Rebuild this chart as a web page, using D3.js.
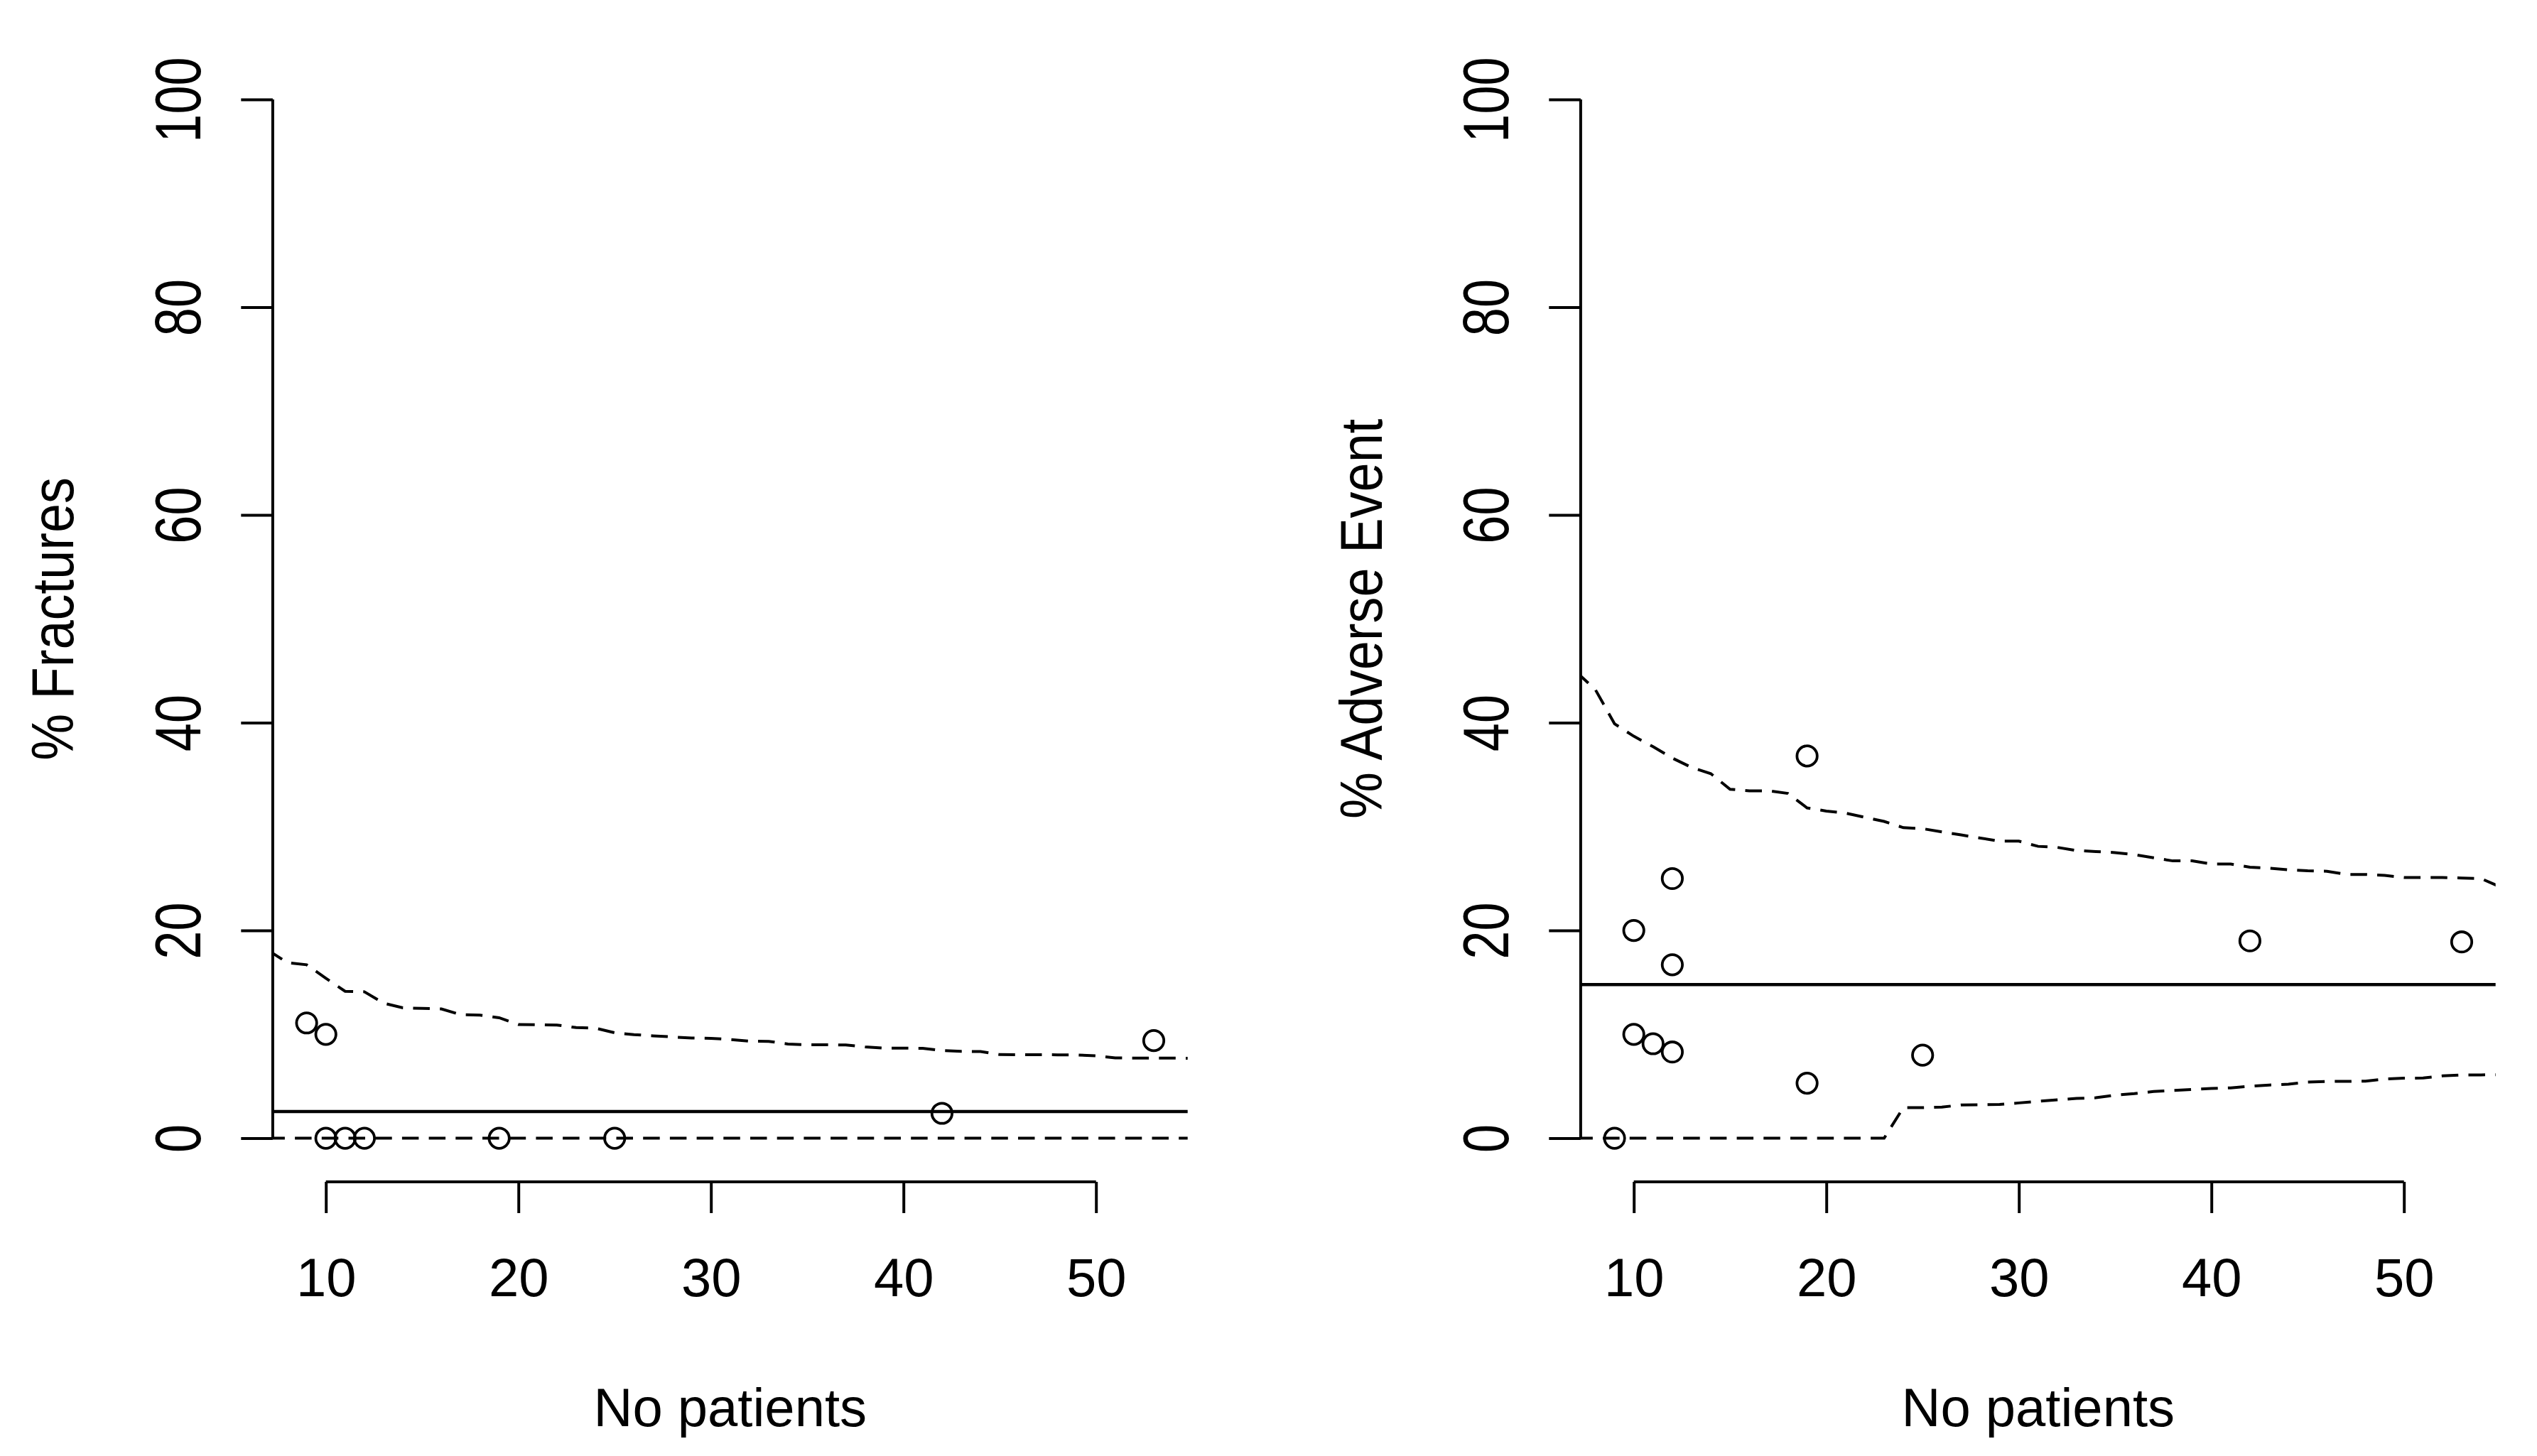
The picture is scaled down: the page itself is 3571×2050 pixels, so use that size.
<!DOCTYPE html>
<html>
<head>
<meta charset="utf-8">
<script src="https://cdn.jsdelivr.net/npm/d3@7"></script>
<style>
  body { margin: 0; background: #fff; }
  text { font-family: "Liberation Sans", Arial, sans-serif; fill: #000; }
</style>
</head>
<body>
<div id="chart"></div>
<script>
// Data
// Grid of study sizes the funnel limits are drawn on
var nGrid = [7, 8, 9, 10, 11, 12, 13, 14, 15, 16, 17, 18, 19, 20, 21, 22, 23, 24, 25, 26, 27, 28, 29, 30, 31,
  32, 33, 34, 35, 36, 37, 38, 39, 40, 41, 42, 43, 44, 45, 46, 47, 48, 49, 50, 51, 52, 53, 54, 55];

// Fractures panel
var fracUpper = [18.1, 16.9, 16.7, 15.4, 14.15, 14.1, 13.0, 12.55, 12.5, 12.45, 11.9, 11.85, 11.6, 10.95, 10.93,
  10.9, 10.65, 10.6, 10.15, 9.98, 9.86, 9.75, 9.65, 9.62, 9.5, 9.35, 9.33, 9.07, 9.0, 9.0, 8.98, 8.8, 8.68, 8.68,
  8.66, 8.45, 8.36, 8.35, 8.05, 8.04, 8.04, 8.03, 8.02, 7.93, 7.73, 7.72, 7.72, 7.71, 7.7];
var fracLower = [0, 0, 0, 0, 0, 0, 0, 0, 0, 0, 0, 0, 0, 0, 0, 0, 0, 0, 0, 0, 0, 0, 0, 0, 0,
  0, 0, 0, 0, 0, 0, 0, 0, 0, 0, 0, 0, 0, 0, 0, 0, 0, 0, 0, 0, 0, 0, 0, 0];
var fracN = [9, 10, 10, 11, 12, 19, 25, 42, 53];
var fracPct = [11.1, 10, 0, 0, 0, 0, 0, 2.4, 9.4];
var fracMean = 2.57;

// Adverse event panel
var aeUpper = [44.9, 43.2, 39.9, 38.7, 37.7, 36.6, 35.7, 35.1, 33.6, 33.45, 33.45, 33.2, 31.8, 31.5, 31.3, 30.9,
  30.5, 29.9, 29.8, 29.5, 29.2, 28.9, 28.6, 28.6, 28.1, 28.0, 27.7, 27.6, 27.5, 27.3, 27.0, 26.7, 26.7, 26.4,
  26.4, 26.1, 26.0, 25.85, 25.75, 25.7, 25.4, 25.4, 25.3, 25.1, 25.1, 25.1, 25.05, 25.0, 24.2];
var aeLower = [0, 0, 0, 0, 0, 0, 0, 0, 0, 0, 0, 0, 0, 0, 0, 0, 0, 2.95, 2.95, 3.0, 3.2, 3.22, 3.25, 3.4, 3.55,
  3.7, 3.83, 3.9, 4.15, 4.3, 4.5, 4.6, 4.7, 4.8, 4.85, 5.0, 5.12, 5.2, 5.4, 5.47, 5.47, 5.5, 5.7, 5.78, 5.8,
  6.0, 6.1, 6.1, 6.12];
var aeN = [9, 10, 10, 11, 12, 12, 12, 19, 19, 25, 42, 53];
var aePct = [0, 20, 10, 9.1, 25, 16.7, 8.3, 36.8, 5.3, 8, 19, 18.9];
var aeMean = 14.8;

// Axis ticks and titles
var yTicks = [0, 20, 40, 60, 80, 100];
var xTicks = [10, 20, 30, 40, 50];
var xTitle = "No patients";

// svg container
var svgWidth = 3571;
var svgHeight = 2050;

var svg = d3.select("#chart")
  .append("svg")
  .attr("width", svgWidth)
  .attr("height", svgHeight)
  .style("display", "block");

// one funnel panel
function drawPanel(p) {
  var xScale = d3.scaleLinear()
    .domain([7.24, 54.76])
    .range(p.xRange);

  var yScale = d3.scaleLinear()
    .domain([-4, 104])
    .range([1661.1, 81.6]);

  var g = svg.append("g");

  // clip the limit lines to the plot region
  svg.append("clipPath")
    .attr("id", "clip-" + p.id)
    .append("rect")
    .attr("x", p.xRange[0])
    .attr("y", yScale(104))
    .attr("width", p.xRange[1] - p.xRange[0])
    .attr("height", yScale(-4) - yScale(104));

  // y axis, line only from first to last tick
  var yAxis = d3.axisLeft(yScale)
    .tickValues(yTicks)
    .tickSize(44.6)
    .tickSizeOuter(0);

  var yg = g.append("g")
    .attr("transform", `translate(${p.xRange[0]}, 0)`)
    .call(yAxis);

  yg.select(".domain")
    .attr("d", `M0,${yScale(0)}V${yScale(100)}`)
    .attr("stroke-width", 4);
  yg.selectAll(".tick line").attr("stroke-width", 4);
  yg.selectAll(".tick text")
    .attr("x", 0)
    .attr("dy", null)
    .attr("text-anchor", "middle")
    .attr("font-size", 72)
    .attr("transform", "translate(-101.9, 0) rotate(-90) scale(1, 1.25)");

  // x axis
  var xAxis = d3.axisBottom(xScale)
    .tickValues(xTicks)
    .tickSize(44)
    .tickSizeOuter(0);

  var xg = g.append("g")
    .attr("transform", "translate(0, 1664)")
    .call(xAxis);

  xg.select(".domain")
    .attr("d", `M${xScale(10)},0H${xScale(50)}`)
    .attr("stroke-width", 4);
  xg.selectAll(".tick line").attr("stroke-width", 4);
  xg.selectAll(".tick text")
    .attr("y", 161)
    .attr("dy", null)
    .attr("font-size", 76);

  // pooled estimate
  g.append("line")
    .attr("x1", xScale(7.24))
    .attr("x2", xScale(54.76))
    .attr("y1", yScale(p.mean))
    .attr("y2", yScale(p.mean))
    .attr("stroke", "black")
    .attr("stroke-width", 4.5);

  // funnel limits
  var limitLine = d3.line()
    .x((d, i) => xScale(nGrid[i]))
    .y(d => yScale(d));

  [p.upper, p.lower].forEach(function(limit) {
    g.append("path")
      .datum(limit)
      .attr("d", limitLine)
      .attr("clip-path", `url(#clip-${p.id})`)
      .attr("fill", "none")
      .attr("stroke", "black")
      .attr("stroke-width", 4)
      .attr("stroke-dasharray", "23.5,14.2");
  });

  // studies
  g.selectAll("circle")
    .data(p.n)
    .enter()
    .append("circle")
    .attr("cx", d => xScale(d))
    .attr("cy", (d, i) => yScale(p.pct[i]))
    .attr("r", 14.2)
    .attr("fill", "none")
    .attr("stroke", "black")
    .attr("stroke-width", 3.8);

  // axis titles
  g.append("text")
    .attr("transform", `translate(${p.titleX}, ${(yScale(-4) + yScale(104)) / 2}) rotate(-90) scale(1, 1.13)`)
    .attr("text-anchor", "middle")
    .attr("font-size", 74)
    .text(p.yTitle);

  g.append("text")
    .attr("x", (xScale(7.24) + xScale(54.76)) / 2)
    .attr("y", 2008)
    .attr("text-anchor", "middle")
    .attr("font-size", 76)
    .text(xTitle);
}

drawPanel({
  id: "frac",
  xRange: [383.9, 1671.7],
  titleX: 103,
  yTitle: "% Fractures",
  upper: fracUpper,
  lower: fracLower,
  n: fracN,
  pct: fracPct,
  mean: fracMean
});

drawPanel({
  id: "ae",
  xRange: [2224.9, 3512.7],
  titleX: 1945,
  yTitle: "% Adverse Event",
  upper: aeUpper,
  lower: aeLower,
  n: aeN,
  pct: aePct,
  mean: aeMean
});
</script>
</body>
</html>
